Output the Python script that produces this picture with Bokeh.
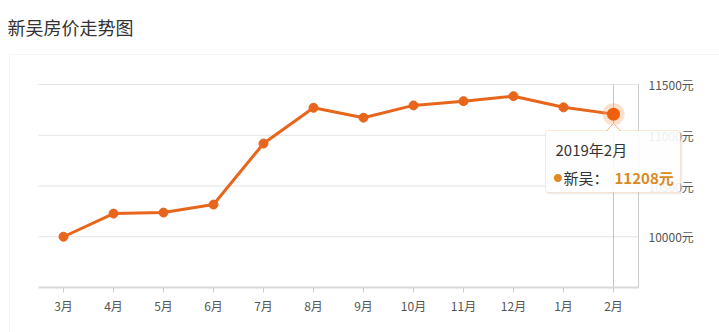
from bokeh.plotting import figure
from bokeh.models import (Range1d, FixedTicker, CustomJSTickFormatter,
                          Label, BoxAnnotation)
from bokeh.embed import file_html
from bokeh.resources import INLINE

# ---------------- data ----------------
months = ["3月", "4月", "5月", "6月", "7月", "8月", "9月", "10月", "11月", "12月", "1月", "2月"]
prices = [10000, 10228, 10238, 10317, 10918, 11271, 11173, 11294, 11336, 11385, 11275, 11208]
y_ticks = [10000, 10500, 11000, 11500]
title_text = "新吴房价走势图"
series_name = "新吴"
hover_month = "2019年2月"
hover_value = "11208元"

# ---------------- layout (pixels) ----------------
FONT = "Noto Sans CJK SC"
W, H = 719, 332
PL, PR, PT, PB = 38, 638, 84, 287      # plot area in canvas pixels
Y0, Y1 = 9500, 11500
n = len(months)
xs = list(range(n))
band = (PR - PL) / n                   # px per category
upp = (Y1 - Y0) / (PB - PT)            # data units per px (y)

# frame covers the whole canvas; ranges chosen so the plot area lands at PL..PR / PT..PB
x_start = -0.5 - PL / band
x_end = n - 0.5 + (W - PR) / band
y_end = Y1 + PT * upp
y_start = Y0 - (H - PB) * upp

p = figure(width=W, height=H, x_range=Range1d(x_start, x_end),
           y_range=Range1d(y_start, y_end), y_axis_location="right",
           output_backend="svg", toolbar_location=None,
           min_border=0, min_border_left=0, min_border_right=0,
           min_border_top=0, min_border_bottom=0)
p.outline_line_color = None
p.background_fill_color = "white"
p.border_fill_color = "white"
p.xgrid.visible = False
p.ygrid.visible = False


def sy(py):
    return H - py


# outer panel border
p.add_layout(BoxAnnotation(left=9, right=W + 10, top=sy(54), bottom=-20,
                           left_units="screen", right_units="screen",
                           top_units="screen", bottom_units="screen",
                           fill_color=None, line_color="#dcdcdc", line_width=1,
                           level="underlay"))

# horizontal grid lines at the y ticks
p.segment(x0=[-0.5] * len(y_ticks), x1=[n - 0.5] * len(y_ticks), y0=y_ticks, y1=y_ticks,
          line_color="#e3e3e3", line_width=1, level="underlay")

# x axis
xa = p.xaxis[0]
xa.fixed_location = Y0
xa.bounds = (-0.5, n - 0.5)
xa.ticker = FixedTicker(ticks=xs)
xa.major_label_overrides = {i: m for i, m in zip(xs, months)}
xa.axis_line_color = "#d9d9d9"
xa.axis_line_width = 2
xa.major_tick_line_color = "#cccccc"
xa.major_tick_out = 5
xa.major_tick_in = 0
xa.minor_tick_line_color = None
xa.major_label_text_font = FONT
xa.major_label_text_font_size = "12px"
xa.major_label_text_color = "#555555"
xa.major_label_standoff = 4

# y axis (right side of plot area)
ya = p.yaxis[0]
ya.fixed_location = n - 0.5
ya.bounds = (Y0, Y1)
ya.ticker = FixedTicker(ticks=y_ticks)
ya.formatter = CustomJSTickFormatter(code="return tick + '元'")
ya.axis_line_color = "#cccccc"
ya.major_tick_line_color = None
ya.minor_tick_line_color = None
ya.major_label_text_font = FONT
ya.major_label_text_font_size = "12px"
ya.major_label_text_color = "#555555"
ya.major_label_standoff = 4

# crosshair at the hovered month
hx = xs[-1]
p.segment(x0=[hx], x1=[hx], y0=[Y0], y1=[Y1], line_color="#c4c4c4", line_width=1,
          level="underlay")

LINE_C = "#e8651c"
p.line(xs, prices, line_color=LINE_C, line_width=3)
p.scatter(xs, prices, size=9, fill_color=LINE_C, line_color=LINE_C)
p.scatter([hx], [prices[-1]], size=22, fill_color="#f6a56a", fill_alpha=0.35,
          line_color=None)
p.scatter([hx], [prices[-1]], size=13, fill_color="#f25f0c", line_color=None)

# title
p.add_layout(Label(x=7, y=sy(26), x_units="screen", y_units="screen",
                   text=title_text, text_font=FONT, text_font_size="18px",
                   text_color="#333333", text_baseline="middle"))

# tooltip
TL, TR, TT, TBm = 545, 680, 130, 192
p.add_layout(BoxAnnotation(left=TL + 1, right=TR + 2, top=sy(TT + 1), bottom=sy(TBm + 2),
                           left_units="screen", right_units="screen",
                           top_units="screen", bottom_units="screen",
                           fill_color="#000000", fill_alpha=0.06, line_color=None,
                           border_radius=3))
p.add_layout(BoxAnnotation(left=TL, right=TR, top=sy(TT), bottom=sy(TBm),
                           left_units="screen", right_units="screen",
                           top_units="screen", bottom_units="screen",
                           fill_color="white", fill_alpha=0.9, line_color="#f0b27a",
                           line_width=1, border_radius=3))


def ydata(py):
    return Y1 - (py - PT) * upp


xpp = 1 / band
ax = [hx - 7 * xpp, hx, hx + 7 * xpp]
p.patch(ax, [ydata(TT + 1.5), ydata(TT - 7), ydata(TT + 1.5)], fill_color="white",
        line_color=None, level="overlay")
p.line(ax, [ydata(TT + 0.5), ydata(TT - 7), ydata(TT + 0.5)], line_color="#f0b27a",
       line_width=1, level="overlay")

p.add_layout(Label(x=555, y=sy(149), x_units="screen", y_units="screen",
                   text=hover_month, text_font=FONT, text_font_size="15px",
                   text_color="#333333", text_baseline="middle"))
p.add_layout(Label(x=553, y=sy(177), x_units="screen", y_units="screen",
                   text="●", text_font=FONT, text_font_size="9px",
                   text_color="#e0892a", text_baseline="middle"))
p.add_layout(Label(x=563, y=sy(177), x_units="screen", y_units="screen",
                   text=series_name + "：", text_font=FONT, text_font_size="15px",
                   text_color="#333333", text_baseline="middle"))
p.add_layout(Label(x=614, y=sy(177), x_units="screen", y_units="screen",
                   text=hover_value, text_font=FONT, text_font_size="15px",
                   text_font_style="bold",
                   text_color="#d98b1f", text_baseline="middle"))

open("out.html", "w").write(file_html(p, INLINE))
